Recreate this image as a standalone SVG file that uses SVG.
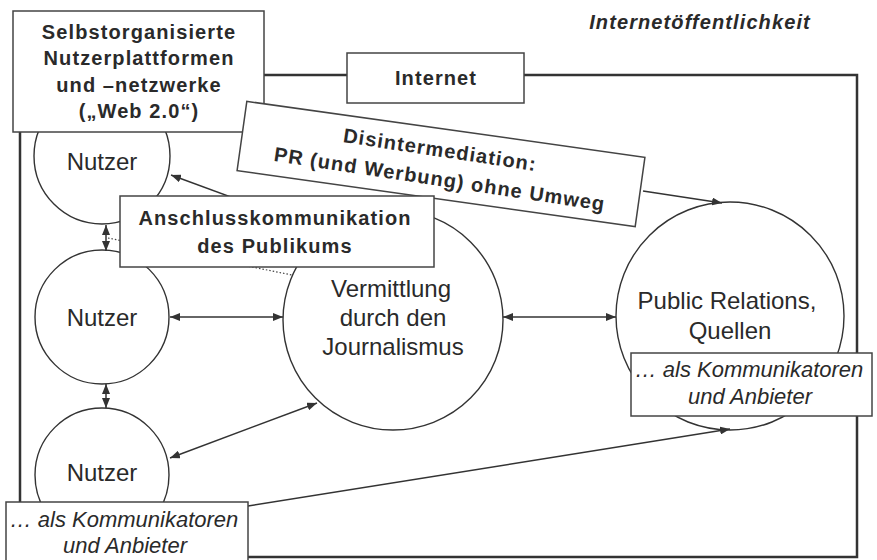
<svg xmlns="http://www.w3.org/2000/svg" width="877" height="560" viewBox="0 0 877 560">
<defs>
<marker id="ah" viewBox="0 0 10 8" refX="10" refY="4" markerWidth="10" markerHeight="8" markerUnits="userSpaceOnUse" orient="auto-start-reverse">
<path d="M0,0 L10,4 L0,8 Z" fill="#333"/>
</marker>
<style>
.frame{fill:none;stroke:#333;stroke-width:2.5}
.circ{fill:#fff;stroke:#333;stroke-width:1.4}
.box{fill:#fff;stroke:#444;stroke-width:1.5}
.con{fill:none;stroke:#333;stroke-width:1.5}
.dot{fill:none;stroke:#444;stroke-width:1.2;stroke-dasharray:1.5 2}
.b{font-family:"Liberation Sans",Arial,sans-serif;font-weight:bold;font-size:20px;letter-spacing:1.1px;fill:#2a2a2a;text-anchor:middle}
.r{font-family:"Liberation Sans",Arial,sans-serif;font-size:24px;fill:#2a2a2a;text-anchor:middle}
.i{font-family:"Liberation Sans",Arial,sans-serif;font-style:italic;font-size:22px;fill:#2a2a2a;text-anchor:middle}
</style>
</defs>
<rect width="877" height="560" fill="#fff"/>
<g id="frame">
<rect class="frame" x="20" y="75" width="837" height="482"/>
<text class="b" x="700" y="29" font-style="italic">Internetöffentlichkeit</text>
</g>
<g id="nutzer1"><circle class="circ" cx="102" cy="156" r="68"/><text class="r" x="102" y="170">Nutzer</text></g>
<g id="nutzer2"><circle class="circ" cx="102" cy="317" r="67"/><text class="r" x="102" y="326">Nutzer</text></g>
<g id="nutzer3"><circle class="circ" cx="102" cy="475" r="67"/><text class="r" x="102" y="481">Nutzer</text></g>
<g id="vermittlung"><circle class="circ" cx="393" cy="320" r="110"/>
<text class="r" x="391" y="297">Vermittlung</text><text class="r" x="393" y="326">durch den</text><text class="r" x="393" y="355">Journalismus</text></g>
<g id="pr"><circle class="circ" cx="730" cy="316" r="114"/>
<text class="r" x="727" y="309">Public Relations,</text><text class="r" x="730" y="339">Quellen</text></g>
<g id="connectors">
<line class="con" x1="106" y1="225" x2="106" y2="251" marker-start="url(#ah)" marker-end="url(#ah)"/>
<line class="con" x1="106" y1="384" x2="106" y2="408" marker-start="url(#ah)" marker-end="url(#ah)"/>
<line class="con" x1="170" y1="317" x2="283" y2="317" marker-start="url(#ah)" marker-end="url(#ah)"/>
<line class="con" x1="503" y1="317" x2="616" y2="317" marker-start="url(#ah)" marker-end="url(#ah)"/>
<line class="con" x1="170" y1="458" x2="317" y2="403" marker-start="url(#ah)" marker-end="url(#ah)"/>
<line class="con" x1="326" y1="232" x2="171" y2="175" marker-end="url(#ah)"/>
<line class="con" x1="643" y1="191" x2="722" y2="203" marker-end="url(#ah)"/>
<line class="con" x1="248" y1="506" x2="730" y2="429" marker-end="url(#ah)"/>
<line class="dot" x1="108" y1="238" x2="292" y2="275"/>
</g>
<g id="selbstorganisiert">
<rect class="box" x="13" y="11" width="251" height="121"/>
<text class="b" x="139" y="39">Selbstorganisierte</text>
<text class="b" x="139" y="65">Nutzerplattformen</text>
<text class="b" x="139" y="92">und –netzwerke</text>
<text class="b" x="139" y="118">(„Web 2.0“)</text>
</g>
<g id="internet">
<rect class="box" x="347" y="53" width="177" height="50"/>
<text class="b" x="436" y="85">Internet</text>
</g>
<g id="disintermediation" transform="translate(441,164)">
<rect class="box" x="-201" y="-35" width="402" height="70" transform="rotate(8)"/>
<g transform="rotate(8.6)">
<text class="b" x="-3" y="-7">Disintermediation:</text>
<text class="b" x="1" y="22">PR (und Werbung) ohne Umweg</text>
</g>
</g>
<g id="anschluss">
<rect class="box" x="120" y="196" width="314" height="71"/>
<text class="b" x="275" y="225">Anschlusskommunikation</text>
<text class="b" x="275" y="253">des Publikums</text>
</g>
<g id="anbieter-rechts">
<rect class="box" x="631" y="353" width="241" height="63"/>
<text class="i" x="749" y="377">… als Kommunikatoren</text>
<text class="i" x="750" y="404">und Anbieter</text>
</g>
<g id="anbieter-links">
<rect class="box" x="6" y="502" width="242" height="62"/>
<text class="i" x="124" y="527">… als Kommunikatoren</text>
<text class="i" x="125" y="553">und Anbieter</text>
</g>
</svg>
